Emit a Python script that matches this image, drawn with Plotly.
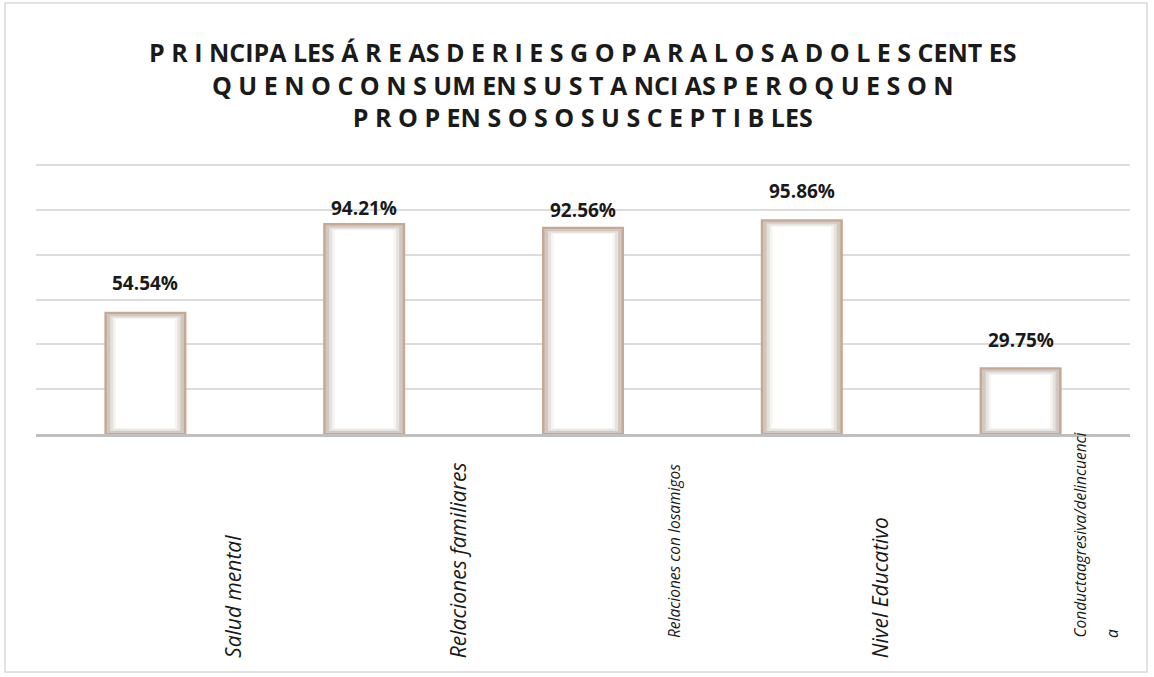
import plotly.graph_objects as go

categories = ["Salud mental", "Relaciones familiares", "Relaciones con losamigos",
              "Nivel Educativo", "Conductaagresiva/delincuencia"]
cat_label_lines = [["Salud mental"], ["Relaciones familiares"], ["Relaciones con losamigos"],
                   ["Nivel Educativo"], ["Conductaagresiva/delincuenci", "a"]]
values = [54.54, 94.21, 92.56, 95.86, 29.75]
value_labels = ["54.54%", "94.21%", "92.56%", "95.86%", "29.75%"]
title_lines = [
    "P R I NCIPA LES Á R E AS D E R I E S G O P A R A L O S A D O L E S CENT ES",
    "Q U E N O C O N S UM EN S U S T A NCI AS P E R O Q U E S O N",
    "P R O P EN S O S O S U S C E P T I B LES",
]

# styling (pixels)
label_sizes = [21, 21, 15.5, 21, 15.5]
label_xshift = [87, 94, 91, 78, 75]
label_bottom_px = [660, 660, 640, 660, 640]
value_label_yshift = [14, 0, 2, 13, 12]

W, H = 1154, 677
ml, mr, mt, mb = 36, 24, 163, 243
pw = W - ml - mr
ph = H - mt - mb


def py(pix):
    return (H - pix - mb) / ph


def px(pix):
    return (pix - ml) / pw


fig = go.Figure()
# layered bars to imitate the soft glowing outline
layers = [
    (0.375, 0.0, 0.0, "#c5a994"),
    (0.352, 0.5, 1.0, "#d3c8bf"),
    (0.320, 1.3, 2.0, "#e6e2de"),
    (0.292, 2.1, 2.8, "#f6f5f4"),
    (0.268, 2.7, 3.3, "#ffffff"),
]
for w, b, t, col in layers:
    fig.add_trace(go.Bar(
        x=categories, y=[v - b - t for v in values], base=b, width=w,
        marker=dict(color=col, line=dict(width=0)),
        hoverinfo="skip",
    ))

annotations = []
for cat, v, lab, ys in zip(categories, values, value_labels, value_label_yshift):
    annotations.append(dict(
        x=cat, xref="x", y=v, yref="y", text="<b>" + lab + "</b>", showarrow=False,
        xanchor="center", yanchor="bottom", yshift=ys,
        font=dict(family="Open Sans, DejaVu Sans, sans-serif", size=19, color="#1a1a1a"),
    ))

for cat, lines, sz, xs, bp in zip(categories, cat_label_lines, label_sizes, label_xshift, label_bottom_px):
    for i, line in enumerate(lines):
        annotations.append(dict(
            x=cat, xref="x", y=py(bp), yref="paper",
            text=line, textangle=-90, showarrow=False,
            xanchor="center", yanchor="bottom", xshift=xs + 32 * i - 16 * (len(lines) - 1),
            font=dict(family="Open Sans, DejaVu Sans, sans-serif", size=sz, color="#1a1a1a", style="italic"),
        ))

annotations.append(dict(
    x=0.5, xref="paper", y=py(33), yref="paper",
    text="<b>" + "<br>".join(title_lines) + "</b>",
    showarrow=False, xanchor="center", yanchor="top", align="center",
    font=dict(family="Open Sans, DejaVu Sans, sans-serif", size=25, color="#1a1a1a"),
))

shapes = [dict(type="rect", xref="paper", yref="paper",
               x0=px(5), x1=px(1147), y0=py(672), y1=py(3),
               line=dict(color="#d9d9d9", width=1.5), fillcolor="rgba(0,0,0,0)", layer="below")]

fig.update_layout(
    width=W, height=H,
    margin=dict(l=ml, r=mr, t=mt, b=mb),
    paper_bgcolor="white", plot_bgcolor="white",
    showlegend=False,
    barmode="overlay",
    annotations=annotations,
    shapes=shapes,
    xaxis=dict(showticklabels=False, showline=True, linecolor="#bfbfbf", linewidth=2.5,
               ticks="", showgrid=False, fixedrange=True),
    yaxis=dict(range=[0, 121], dtick=20, showticklabels=False, showgrid=True,
               gridcolor="#dcdcdc", gridwidth=2, zeroline=False, showline=False, ticks=""),
)

fig.write_html("out.html", config={"displayModeBar": False},
               post_script="document.body.style.margin='0';")
